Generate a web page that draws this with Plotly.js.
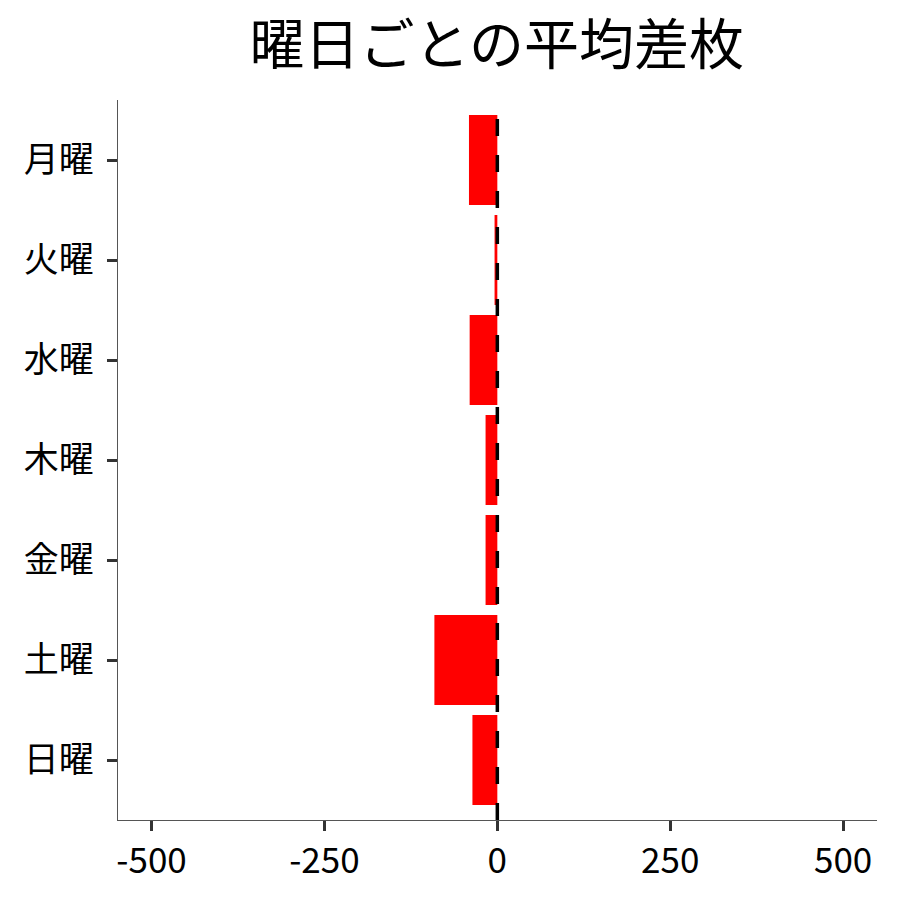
<!DOCTYPE html>
<html>
<head>
<meta charset="utf-8">
<script src="https://cdn.plot.ly/plotly-3.0.1.min.js"></script>
<style>
  html, body { margin: 0; padding: 0; background: #ffffff; }
  #chart { width: 900px; height: 900px; }
</style>
</head>
<body>
<div id="chart"></div>
<script>
// weekday labels, top to bottom
const days = ['月曜', '火曜', '水曜', '木曜', '金曜', '土曜', '日曜'];
// average difference per weekday
const avgDiff = [-41, -4, -40, -17, -17, -91, -36];
const xTicks = [-500, -250, 0, 250, 500];

const fontJP = '"Noto Sans CJK JP", "Noto Sans", sans-serif';

const data = [{
    type: 'bar',
    orientation: 'h',
    y: days,
    x: avgDiff,
    width: 0.9,
    marker: { color: '#ff0000', line: { width: 0 } },
    hoverinfo: 'skip',
}];

const layout = {
    width: 900,
    height: 900,
    margin: { l: 118, r: 23, t: 100, b: 80, pad: 0 },
    paper_bgcolor: '#ffffff',
    plot_bgcolor: '#ffffff',
    showlegend: false,
    title: {
        text: '曜日ごとの平均差枚',
        x: 0.552,
        xanchor: 'center',
        y: 0.95,
        yanchor: 'middle',
        font: { family: fontJP, size: 55, color: '#000000' },
    },
    xaxis: {
        range: [-548.5, 549],
        tickvals: xTicks,
        ticktext: xTicks.map(String),
        showgrid: false,
        zeroline: false,
        showline: true,
        linecolor: '#555555',
        linewidth: 1.2,
        ticks: 'outside',
        ticklen: 10,
        tickwidth: 3,
        tickcolor: '#333333',
        ticklabelstandoff: 0,
        tickfont: { family: fontJP, size: 35, color: '#000000' },
    },
    yaxis: {
        type: 'category',
        categoryorder: 'array',
        categoryarray: days,
        range: [6.6, -0.6],
        showgrid: false,
        zeroline: false,
        showline: true,
        linecolor: '#555555',
        linewidth: 1.2,
        ticks: 'outside',
        ticklen: 10,
        tickwidth: 3,
        tickcolor: '#333333',
        ticklabelstandoff: 6,
        tickfont: { family: fontJP, size: 35, color: '#000000' },
    },
    shapes: [{ // zero reference line
        type: 'line',
        xref: 'x',
        yref: 'paper',
        x0: 0, x1: 0,
        y0: 0, y1: 1,
        line: { color: '#000000', width: 3.5, dash: '17px,19px' },
    }],
};

const config = { staticPlot: true, displayModeBar: false };

Plotly.newPlot('chart', data, layout, config);
</script>
</body>
</html>
